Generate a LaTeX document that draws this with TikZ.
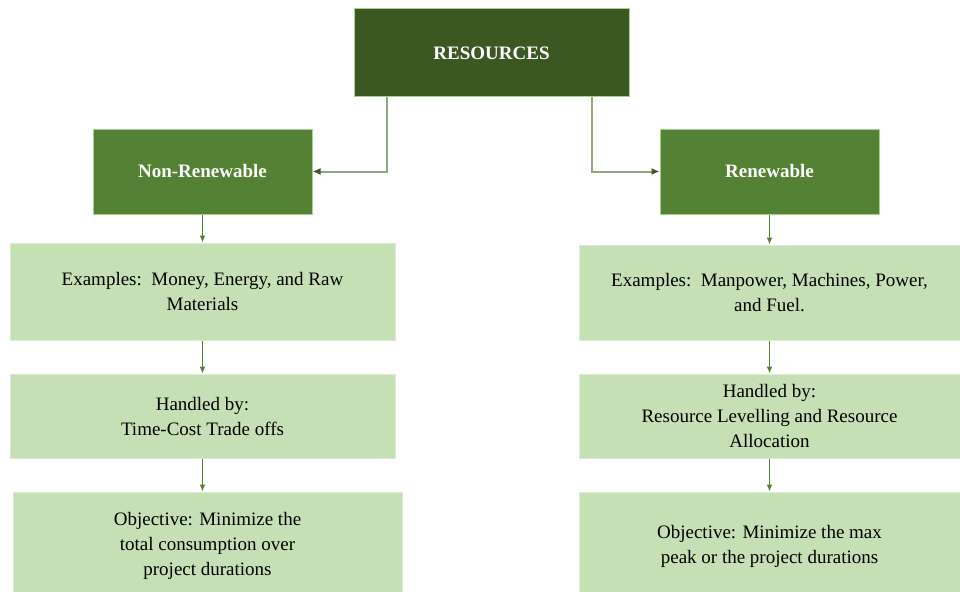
\documentclass[tikz,border=0pt]{standalone}
\usepackage{fontspec}
\setmainfont{Liberation Serif}
\usetikzlibrary{positioning, arrows.meta}

\definecolor{resgreen}{HTML}{3B5823}
\definecolor{midgreen}{HTML}{548235}
\definecolor{palegreen}{HTML}{C5E0B4}
\definecolor{rimgreen}{HTML}{A9D18E}
\definecolor{linkgray}{HTML}{8FA87E}

\tikzset{
  headbox/.style={draw=rimgreen, line width=1pt, text=white,
                  font=\fontsize{19}{25}\selectfont\bfseries, align=center},
  infobox/.style={draw=palegreen!60!white, line width=1pt, fill=palegreen,
                  font=\fontsize{19}{25}\selectfont, align=center},
  elbow/.style={draw=linkgray, line width=2pt,
                -{Latex[length=8pt,width=7pt,color=resgreen]}},
  down/.style={draw=midgreen, line width=1.6pt,
               -{Latex[length=7pt,width=6pt]}}
}

\begin{document}
\begin{tikzpicture}[x=1pt, y=-1pt]
    \useasboundingbox (0,0) rectangle (960,591);
    \clip (0,0) rectangle (960,591);

    % top and the two kinds
    \node[headbox,
          fill=resgreen,
          minimum width=275pt,
          minimum height=88pt] (res) at (491.5,53) {RESOURCES};
    \node[headbox,
          fill=midgreen,
          minimum width=219pt,
          minimum height=85pt] (nonren) at (202.5,171.5) {Non-Renewable};
    \node[headbox,
          fill=midgreen,
          minimum width=219pt,
          minimum height=85pt] (ren) at (769.5,171.5) {Renewable};

    % left column
    \node[infobox,
          below=28pt of nonren,
          minimum width=385pt,
          minimum height=97pt] (lex) {Examples:\ \ Money, Energy, and Raw\\Materials};
    \node[infobox,
          below=33pt of lex,
          minimum width=385pt,
          minimum height=84pt] (lhand) {Handled by:\\Time-Cost Trade offs};
    \node[infobox,
          below=33pt of lhand,
          xshift=5pt,
          minimum width=389pt,
          minimum height=108pt] (lobj) {Objective: Minimize the\\total consumption over\\project durations};

    % right column
    \node[infobox,
          below=30pt of ren,
          minimum width=381pt,
          minimum height=95pt] (rex) {Examples:\ \ Manpower, Machines, Power,\\and Fuel.};
    \node[infobox,
          below=33pt of rex,
          minimum width=381pt,
          minimum height=84pt] (rhand) {Handled by:\\Resource Levelling and Resource\\Allocation};
    \node[infobox,
          below=33pt of rhand,
          minimum width=381pt,
          minimum height=108pt] (robj) {Objective: Minimize the max\\peak or the project durations};

    % links
    \draw[elbow] ([xshift=-105pt]res.south) |- (nonren.east);
    \draw[elbow] ([xshift=100pt]res.south) |- (ren.west);

    \draw[down] (nonren) -- (lex);
    \draw[down] (lex) -- (lhand);
    \draw[down] (lhand.south) -- (lhand.south |- lobj.north);
    \draw[down] (ren) -- (rex);
    \draw[down] (rex) -- (rhand);
    \draw[down] (rhand) -- (robj);
\end{tikzpicture}
\end{document}
